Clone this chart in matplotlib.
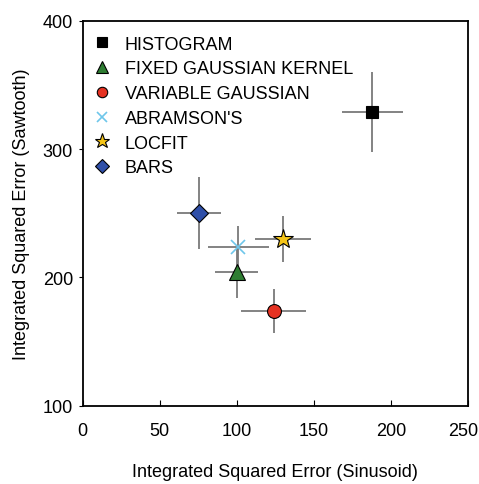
import matplotlib
matplotlib.use("Agg")
import matplotlib.pyplot as plt
import matplotlib.transforms as mtransforms

plt.rcParams['font.family'] = ['Liberation Sans', 'DejaVu Sans']

labels = ["HISTOGRAM", "FIXED GAUSSIAN KERNEL", "VARIABLE GAUSSIAN", "ABRAMSON'S", "LOCFIT", "BARS"]
x_vals = [188, 100, 124, 101, 130, 75.5]
y_vals = [329, 204, 174, 224, 230, 250]
x_err = [20, 14, 21, 20, 18, 14]
y_err = [31, 20, 17, 16, 18, 28]
markers = ["s", "^", "o", "x", "*", "D"]
colors = ["#000000", "#2e7d32", "#e53222", "#6ec6ea", "#f5c518", "#2f4fa8"]
msizes = [9, 11, 10, 10, 15, 9]

fig = plt.figure(figsize=(4.79, 4.85), dpi=100)
ax = fig.add_axes([0.1727, 0.1614, 0.8043, 0.7939])

for i in range(len(labels)):
    ax.errorbar(x_vals[i], y_vals[i], xerr=x_err[i], yerr=y_err[i], fmt='none',
                ecolor='#7a7a7a', elinewidth=1.3, capsize=0, zorder=2)
for i in range(len(labels)):
    if markers[i] == 'x':
        ax.plot(x_vals[i], y_vals[i], linestyle='none', marker='x', markersize=msizes[i],
                color=colors[i], markeredgewidth=1.2, label=labels[i], zorder=3)
    else:
        ax.plot(x_vals[i], y_vals[i], linestyle='none', marker=markers[i], markersize=msizes[i],
                markerfacecolor=colors[i], markeredgecolor='black', markeredgewidth=0.8,
                label=labels[i], zorder=3)

ax.set_xlim(0, 250)
ax.set_ylim(100, 400)
ax.set_xticks([0, 50, 100, 150, 200, 250])
ax.set_yticks([100, 200, 300, 400])
ax.tick_params(axis='x', direction='in', length=4, labelsize=13, pad=12, top=False)
ax.tick_params(axis='y', direction='out', length=3, labelsize=13, pad=4, right=False)
for s in ax.spines.values():
    s.set_linewidth(1.3)
ax.set_xlabel("Integrated Squared Error (Sinusoid)", fontsize=13, labelpad=17)
ax.set_ylabel("Integrated Squared Error (Sawtooth)", fontsize=13, labelpad=9)

fig.canvas.draw()
lbl = ax.get_xticklabels()[-1]
lbl.set_transform(lbl.get_transform() + mtransforms.ScaledTranslation(-5/100, 0, fig.dpi_scale_trans))

leg = ax.legend(loc='upper left', frameon=False, fontsize=13, markerscale=0.75,
                handlelength=1.0, handletextpad=0.75, labelspacing=0.43,
                borderaxespad=0.0, bbox_to_anchor=(0.008, 0.98))

fig.savefig("out.png", dpi=100)
